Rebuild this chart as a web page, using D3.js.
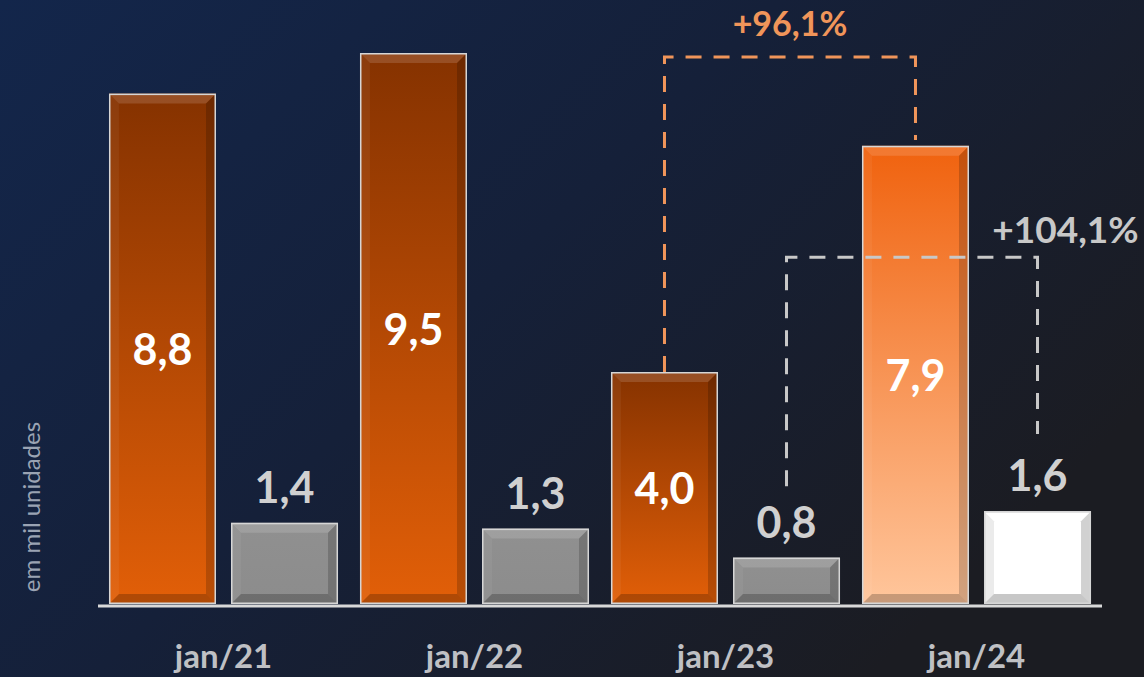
<!DOCTYPE html>
<html>
<head>
<meta charset="utf-8">
<script src="https://cdn.jsdelivr.net/npm/d3@7"></script>
<style>
  html, body { margin: 0; padding: 0; background: #141d33; }
  svg { display: block; }
</style>
</head>
<body>
<svg id="chart" width="1144" height="677"></svg>
<script>
// data
var categories = ["jan/21", "jan/22", "jan/23", "jan/24"];
var emplacado = [8.8, 9.5, 4.0, 7.9];   // orange bars
var exportado = [1.4, 1.3, 0.8, 1.6];   // grey bars
var growthLabels = ["+96,1%", "+104,1%"];
var growthSeries = ["a", "b"];
var growthFrom = ["jan/23", "jan/23"];
var growthTo = ["jan/24", "jan/24"];
var growthTop = [9.43, 5.98];       // bracket level (value units)
var growthEndFrom = [4.0, 2.03];    // where the left leg stops
var growthEndTo = [8.0, 2.93];      // where the right leg stops

var svg = d3.select("#chart"),
    width = +svg.attr("width"),
    height = +svg.attr("height");

var fmt = d3.formatLocale({decimal: ",", thousands: ".", grouping: [3], currency: ["R$", ""]}).format(".1f");

var defs = svg.append("defs");

var bg = defs.append("linearGradient").attr("id", "bg")
    .attr("x1", 0).attr("y1", 0).attr("x2", 1).attr("y2", 0.6);
bg.append("stop").attr("offset", 0).attr("stop-color", "#13264b");
bg.append("stop").attr("offset", 0.5).attr("stop-color", "#152039");
bg.append("stop").attr("offset", 1).attr("stop-color", "#1b1c22");

function vgrad(id, c1, c2) {
  var g = defs.append("linearGradient").attr("id", id)
      .attr("x1", 0).attr("y1", 0).attr("x2", 0).attr("y2", 1);
  g.append("stop").attr("offset", 0).attr("stop-color", c1);
  g.append("stop").attr("offset", 1).attr("stop-color", c2);
}
vgrad("gOrange", "#853200", "#e25f08");
vgrad("gOrangeHi", "#f0620e", "#ffc69c");
vgrad("gGrey", "#909090", "#8c8c8c");
vgrad("gWhite", "#ffffff", "#ffffff");

svg.append("rect").attr("width", width).attr("height", height).attr("fill", "url(#bg)");

var x0 = d3.scaleBand().domain(categories).range([98, 1102]).paddingInner(0).paddingOuter(0);
var x1 = d3.scaleBand().domain(["a", "b"]).range([0, x0.bandwidth()]).paddingInner(0.123).paddingOuter(0.09);
var y = d3.scaleLinear().domain([0, 9.5]).range([604, 53]);

var bars = [];
categories.forEach(function(c, i) {
  bars.push({cat: c, s: "a", v: emplacado[i], i: i});
  bars.push({cat: c, s: "b", v: exportado[i], i: i});
});

function fillOf(d) {
  if (d.s === "a") return d.i === 3 ? "url(#gOrangeHi)" : "url(#gOrange)";
  return d.i === 3 ? "url(#gWhite)" : "url(#gGrey)";
}

var g = svg.append("g").attr("class", "bars");

var bar = g.selectAll("g.bar")
    .data(bars)
    .enter().append("g").attr("class", "bar");

bar.each(function(d) {
  var sel = d3.select(this);
  var white = d.i === 3 && d.s === "b";
  var bx = x0(d.cat) + x1(d.s), bw = x1.bandwidth(),
      by = y(d.v), bh = y(0) - y(d.v);
  var b = Math.min(10, bh / 3);
  sel.append("rect").attr("x", bx).attr("y", by).attr("width", bw).attr("height", bh)
      .attr("fill", fillOf(d));
  var pts = function(a) { return a.map(function(p) { return p.join(","); }).join(" "); };
  // top bevel
  sel.append("polygon").attr("points", pts([[bx, by], [bx + bw, by], [bx + bw - b, by + b], [bx + b, by + b]]))
      .attr("fill", "#ffffff").attr("fill-opacity", white ? 0 : 0.14);
  // left bevel
  sel.append("polygon").attr("points", pts([[bx, by], [bx + b, by + b], [bx + b, by + bh - b], [bx, by + bh]]))
      .attr("fill", white ? "#000" : "#fff").attr("fill-opacity", white ? 0.08 : 0.05);
  // right bevel
  sel.append("polygon").attr("points", pts([[bx + bw, by], [bx + bw, by + bh], [bx + bw - b, by + bh - b], [bx + bw - b, by + b]]))
      .attr("fill", "#000").attr("fill-opacity", 0.18);
  // bottom bevel
  sel.append("polygon").attr("points", pts([[bx, by + bh], [bx + b, by + bh - b], [bx + bw - b, by + bh - b], [bx + bw, by + bh]]))
      .attr("fill", "#000").attr("fill-opacity", 0.22);
  // outline
  sel.append("rect").attr("x", bx + 0.75).attr("y", by + 0.75).attr("width", bw - 1.5).attr("height", bh - 1.5)
      .attr("fill", "none").attr("stroke", "#d6d6d6").attr("stroke-width", 1.5);
});

// baseline
svg.append("line")
    .attr("x1", 98).attr("x2", 1102).attr("y1", y(0) + 2).attr("y2", y(0) + 2)
    .attr("stroke", "#d9d9d9").attr("stroke-width", 3);

// value labels
svg.append("g").selectAll("text")
    .data(bars)
    .enter().append("text")
    .attr("x", function(d) { return x0(d.cat) + x1(d.s) + x1.bandwidth() / 2; })
    .attr("y", function(d) {
      if (d.s === "a") return (y(d.v) + y(0)) / 2 + 16;
      return y(d.v) - 20;
    })
    .attr("text-anchor", "middle")
    .attr("font-family", "Lato, 'Open Sans', sans-serif")
    .attr("font-weight", "bold")
    .attr("font-size", 43)
    .attr("fill", function(d) { return d.s === "a" ? "#ffffff" : "#d0d0d0"; })
    .text(function(d) { return fmt(d.v); });

// category labels
svg.append("g").selectAll("text")
    .data(categories)
    .enter().append("text")
    .attr("x", function(d) { return x0(d) + x0.bandwidth() / 2; })
    .attr("y", 668)
    .attr("text-anchor", "middle")
    .attr("font-family", "Lato, 'Open Sans', sans-serif")
    .attr("font-weight", "bold")
    .attr("font-size", 33)
    .attr("fill", "#bfc0c4")
    .text(function(d) { return d; });

// axis title
svg.append("text")
    .attr("transform", "translate(40,507) rotate(-90)")
    .attr("text-anchor", "middle")
    .attr("font-family", "Lato, 'Open Sans', sans-serif")
    .attr("font-size", 24)
    .attr("fill", "#9aa3b3")
    .text("em mil unidades");

// growth brackets
var colors = ["#f0955a", "#c8c8c8"];
growthLabels.forEach(function(lbl, k) {
  var s = growthSeries[k];
  var xa = x0(growthFrom[k]) + x1(s) + x1.bandwidth() / 2;
  var xb = x0(growthTo[k]) + x1(s) + x1.bandwidth() / 2;
  var path = d3.path();
  path.moveTo(xa, y(growthEndFrom[k]));
  path.lineTo(xa, y(growthTop[k]));
  path.lineTo(xb, y(growthTop[k]));
  path.lineTo(xb, y(growthEndTo[k]));
  svg.append("path")
      .attr("d", path.toString())
      .attr("fill", "none")
      .attr("stroke", colors[k])
      .attr("stroke-width", 3)
      .attr("stroke-dasharray", "16,12");
  svg.append("text")
      .attr("x", k === 0 ? (xa + xb) / 2 : xb + 28)
      .attr("y", y(growthTop[k]) - (k === 0 ? 21 : 14))
      .attr("text-anchor", "middle")
      .attr("font-family", "Lato, 'Open Sans', sans-serif")
      .attr("font-weight", "bold")
      .attr("font-size", k === 0 ? 34 : 37)
      .attr("fill", colors[k])
      .text(lbl);
});
</script>
</body>
</html>
